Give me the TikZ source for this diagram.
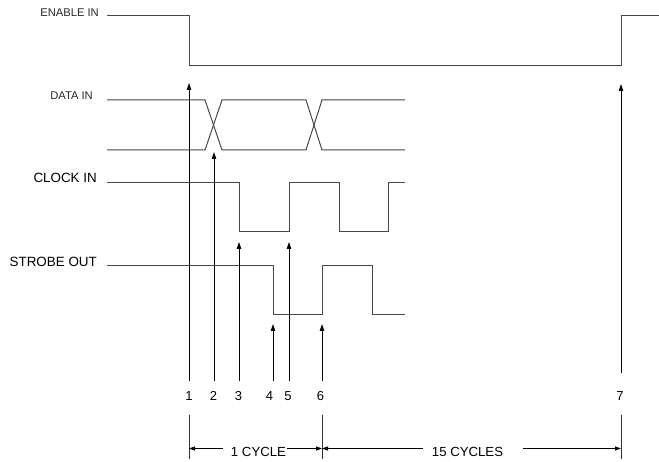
\documentclass[tikz,border=0pt]{standalone}
\usepackage{fontspec}
\setmainfont{Liberation Sans}
\usetikzlibrary{arrows.meta}
\begin{document}
\begin{tikzpicture}[x=1pt,y=-1pt,
  wave/.style={draw=black!72,line width=1pt},
  marker/.style={draw=black,line width=0.9pt,-{Triangle[length=7pt,width=4.5pt]}},
  dim/.style={draw=black,line width=0.8pt,-{Triangle[length=6pt,width=4pt]}},
  tick/.style={draw=black!80,line width=0.9pt},
  lblsmall/.style={anchor=base east,inner sep=0pt,text=black!85,font=\fontsize{11.2}{13}\selectfont},
  lbl/.style={anchor=base east,inner sep=0pt,font=\fontsize{13.4}{15}\selectfont},
  num/.style={anchor=base,inner sep=0pt,font=\fontsize{13}{15}\selectfont},
  dimlbl/.style={anchor=base,inner sep=0pt,font=\fontsize{13.2}{15}\selectfont}]
\useasboundingbox (0,0) rectangle (659,462);
% labels
\node[lblsmall] (en) at (99,16.5) {ENABLE IN};
\node[lblsmall] (di) at (93,99.5) {DATA IN};
\node[lbl] (ck) at (97,182.5) {CLOCK IN};
\node[lbl] (st) at (97,266.5) {STROBE OUT};
% ENABLE IN
\draw[wave] (107,16) -- (189,16) -- (189,66) -- (621,66) -- (621,16) -- (659,16);
% DATA IN
\draw[wave] (107,100) -- (205,100) -- (222,150) -- (306,150) -- (322,100) -- (405,100);
\draw[wave] (107,150) -- (205,150) -- (222,100) -- (306,100) -- (322,150) -- (405,150);
% CLOCK IN
\draw[wave] (107,183) -- (239,183) -- (239,232) -- (289,232) -- (289,183) -- (339,183)
  -- (339,232) -- (388,232) -- (388,183) -- (405,183);
% STROBE OUT
\draw[wave] (107,266) -- (273,266) -- (273,315) -- (322,315) -- (322,266) -- (372,266)
  -- (372,315) -- (405,315);
% marker coordinates
\coordinate (b1) at (189,381); \coordinate (t1) at (189,83);
\coordinate (b2) at (214,381); \coordinate (t2) at (214,152);
\coordinate (b3) at (239,381); \coordinate (t3) at (239,242);
\coordinate (b4) at (273,381); \coordinate (t4) at (273,324);
\coordinate (b5) at (289,381); \coordinate (t5) at (289,242);
\coordinate (b6) at (322,381); \coordinate (t6) at (322,324);
\coordinate (b7) at (621,373); \coordinate (t7) at (621,84);
\foreach \i in {1,...,7} {\draw[marker] (b\i) -- (t\i);}
% numbers
\node[num] (n1) at (189,400) {1};
\node[num] (n2) at (213.5,400) {2};
\node[num] (n3) at (238.5,400) {3};
\node[num] (n4) at (269.5,401) {4};
\node[num] (n5) at (288,400) {5};
\node[num] (n6) at (320.5,400) {6};
\node[num] (n7) at (620,400) {7};
% cycle dimensions
\coordinate (k1a) at (189,415); \coordinate (k1b) at (189,459);
\coordinate (k6a) at (322,415); \coordinate (k6b) at (322,459);
\coordinate (k7a) at (621,415); \coordinate (k7b) at (621,459);
\draw[tick] (k1a) -- (k1b);
\draw[tick] (k6a) -- (k6b);
\draw[tick] (k7a) -- (k7b);
\node[dimlbl] (c1) at (258.5,456) {1 CYCLE};
\node[dimlbl] (c15) at (467.5,456) {15 CYCLES};
\coordinate (d1) at (189,448.5);
\coordinate (d6) at (322,448.5);
\coordinate (d7) at (621,448.5);
\coordinate (e1) at (223,448.5);
\coordinate (e2) at (287,448.5);
\coordinate (e3) at (423,448.5);
\coordinate (e4) at (523,448.5);
\draw[dim] (e1) -- (d1);
\draw[dim] (e2) -- (d6);
\draw[dim] (e3) -- (d6);
\draw[dim] (e4) -- (d7);
\end{tikzpicture}
\end{document}
